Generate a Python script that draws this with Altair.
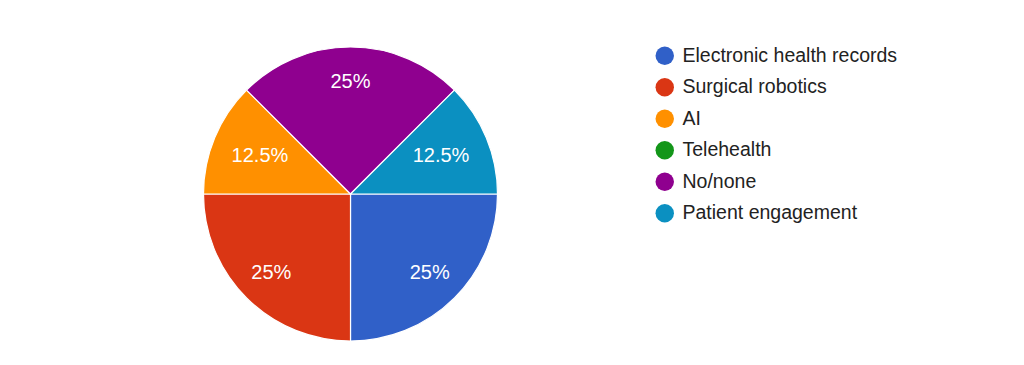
import math
import altair as alt
import pandas as pd

categories = ["Electronic health records", "Surgical robotics", "AI", "Telehealth", "No/none", "Patient engagement"]
values = [25, 25, 12.5, 0, 25, 12.5]
labels = ["25%", "25%", "12.5%", "", "25%", "12.5%"]
colors = ["#3060c8", "#da3614", "#ff9000", "#139619", "#8f008f", "#0b90c1"]

df = pd.DataFrame({
    "category": categories,
    "value": values,
    "label": labels,
    "idx": list(range(len(categories))),
})

theta_scale = alt.Scale(domain=[0, 100], range=[math.pi / 2, math.pi / 2 + 2 * math.pi])
color_scale = alt.Scale(domain=categories, range=colors)

base = alt.Chart(df).transform_window(
    end="sum(value)", sort=[alt.SortField("idx")], frame=[None, 0]
).transform_calculate(
    start="datum.end - datum.value",
    mid="datum.end - datum.value / 2",
)

arcs = base.mark_arc(outerRadius=147, stroke="white", strokeWidth=1.2).encode(
    theta=alt.Theta("start:Q", scale=theta_scale),
    theta2="end:Q",
    color=alt.Color(
        "category:N",
        scale=color_scale,
        sort=categories,
        legend=alt.Legend(
            title=None,
            orient="none",
            legendX=647,
            legendY=12,
            symbolType="circle",
            symbolSize=340,
            symbolStrokeWidth=0,
            labelFontSize=19.5,
            labelFont="Liberation Sans",
            labelColor="#222222",
            labelLimit=400,
            labelOffset=8,
            rowPadding=10.5,
        ),
    ),
)

text_style = dict(fontSize=20, font="Liberation Sans", color="white")
texts_big = base.mark_text(radius=112, **text_style).encode(
    theta=alt.Theta("mid:Q", scale=theta_scale),
    text="label:N",
).transform_filter("datum.value >= 25")
texts_small = base.mark_text(radius=98, **text_style).encode(
    theta=alt.Theta("mid:Q", scale=theta_scale),
    text="label:N",
).transform_filter("datum.value > 0 && datum.value < 25")

chart = (arcs + texts_big + texts_small).properties(
    width=685,
    height=320,
    padding={"left": 0, "top": 26, "right": 5, "bottom": 0},
).configure_view(stroke=None).configure(background="white")

chart.save("out.html", embed_options={"renderer": "svg", "actions": False})
